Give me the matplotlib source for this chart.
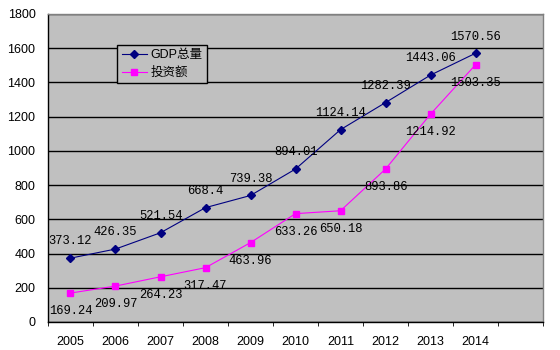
import matplotlib.pyplot as plt
import numpy as np

years = ['2005', '2006', '2007', '2008', '2009', '2010', '2011', '2012', '2013', '2014']
gdp = [373.12, 426.35, 521.54, 668.4, 739.38, 894.01, 1124.14, 1282.39, 1443.06, 1570.56]
invest = [169.24, 209.97, 264.23, 317.47, 463.96, 633.26, 650.18, 893.86, 1214.92, 1503.35]
gdp_labels = ['373.12', '426.35', '521.54', '668.4', '739.38', '894.01',
              '1124.14', '1282.39', '1443.06', '1570.56']
invest_labels = ['169.24', '209.97', '264.23', '317.47', '463.96', '633.26',
                 '650.18', '893.86', '1214.92', '1503.35']

plt.rcParams['font.family'] = ['Liberation Sans', 'Noto Sans CJK SC', 'DejaVu Sans']

fig = plt.figure(figsize=(5.6, 3.5), dpi=100)
ax = fig.add_axes([0.0857, 0.08, 0.884, 0.88])
ax.set_facecolor('#C0C0C0')

# the source chart keeps one empty category slot after 2014
n_slots = len(years) + 1

x = np.arange(len(years))
ax.plot(x, gdp, color='#000080', marker='D', markersize=4, linewidth=0.8,
        label='GDP总量', zorder=3)
ax.plot(x, invest, color='#FF00FF', marker='s', markersize=5, linewidth=0.8,
        label='投资额', zorder=3)

for xi, v, t in zip(x, gdp, gdp_labels):
    ax.annotate(t, (xi, v), xytext=(0, 12), textcoords='offset points',
                ha='center', va='center', fontsize=8.7,
                family='Liberation Mono', zorder=4)
for xi, v, t in zip(x, invest, invest_labels):
    ax.annotate(t, (xi, v), xytext=(0, -13), textcoords='offset points',
                ha='center', va='center', fontsize=8.7,
                family='Liberation Mono', zorder=4)

ax.set_xlim(-0.5, n_slots - 0.5)
ax.set_ylim(0, 1800)
ax.set_yticks(np.arange(0, 1801, 200))
ax.set_xticks(x)
ax.set_xticklabels(years)
ax.set_xticks(np.arange(-0.5, n_slots, 1.0), minor=True)
ax.tick_params(axis='x', which='major', length=0, pad=10, labelsize=9)
ax.tick_params(axis='x', which='minor', length=3, direction='out', color='black')
ax.tick_params(axis='y', length=0, pad=9, labelsize=9)

ax.yaxis.grid(True, color='black', linewidth=1)
ax.set_axisbelow(True)

for side in ['top', 'right']:
    ax.spines[side].set_color('#808080')
    ax.spines[side].set_linewidth(1)
for side in ['left', 'bottom']:
    ax.spines[side].set_color('black')
    ax.spines[side].set_linewidth(1)

leg = ax.legend(loc='upper left', bbox_to_anchor=(0.14, 0.9), fontsize=9,
                frameon=True, fancybox=False, borderpad=0.35, handlelength=2.0,
                handletextpad=0.3, labelspacing=0.45, borderaxespad=0)
leg.get_frame().set_facecolor('#C0C0C0')
leg.get_frame().set_edgecolor('black')
leg.get_frame().set_linewidth(1)
leg.get_frame().set_alpha(1)

fig.savefig('out.png', dpi=100)
